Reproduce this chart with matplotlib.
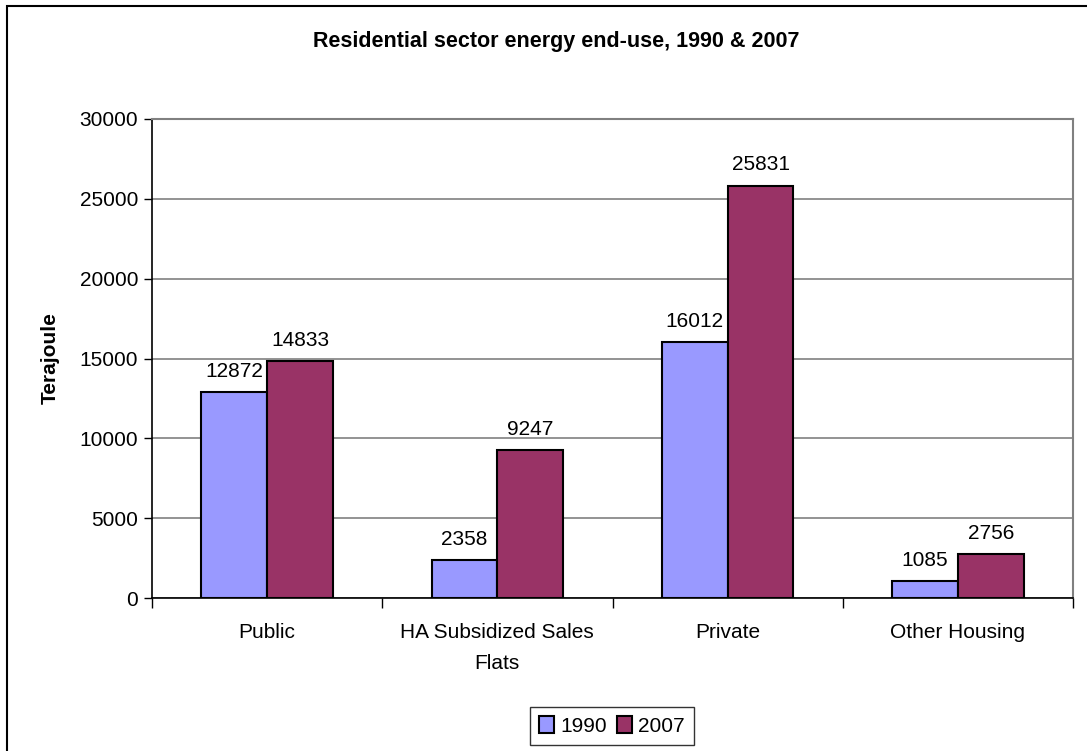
import matplotlib
matplotlib.use("Agg")
import matplotlib.pyplot as plt
import matplotlib.patches as mpatches
import numpy as np

plt.rcParams['font.family'] = ['Liberation Sans', 'DejaVu Sans']

categories = ["Public", "HA Subsidized Sales\nFlats", "Private", "Other Housing"]
series_names = ["1990", "2007"]
values_1990 = [12872, 2358, 16012, 1085]
values_2007 = [14833, 9247, 25831, 2756]
yticks = [0, 5000, 10000, 15000, 20000, 25000, 30000]

c1990 = "#9999FF"
c2007 = "#993366"

fig = plt.figure(figsize=(10.87, 7.51), dpi=100)
ax = fig.add_axes([152/1087, (751-598)/751, (1073-152)/1087, (598-119)/751])

x = np.arange(len(categories))
w = 1/3.5
b1 = ax.bar(x - w/2, values_1990, w, color=c1990, edgecolor="black", linewidth=1.5, zorder=3, label=series_names[0])
b2 = ax.bar(x + w/2, values_2007, w, color=c2007, edgecolor="black", linewidth=1.5, zorder=3, label=series_names[1])

for bars, vals in ((b1, values_1990), (b2, values_2007)):
    for rect, v in zip(bars, vals):
        ax.annotate(f"{v}", (rect.get_x() + rect.get_width()/2, v), xytext=(0, 8),
                    textcoords="offset points", ha="center", va="bottom", fontsize=15, zorder=5)

ax.set_xlim(-0.5, len(categories) - 0.5)
ax.set_ylim(0, 30000)
ax.set_yticks(yticks)
ax.set_yticklabels([str(t) for t in yticks], fontsize=15)
ax.yaxis.grid(True, color="#808080", linewidth=1.2, zorder=0)
ax.set_axisbelow(True)

ax.set_xticks(x)
ax.set_xticklabels(categories, fontsize=15, linespacing=1.8)
ax.tick_params(axis="x", which="major", length=0, pad=18)
ax.set_xticks(np.arange(-0.5, len(categories)), minor=True)
ax.tick_params(axis="x", which="minor", length=7, width=1, direction="out", color="black")
ax.tick_params(axis="y", length=6, width=1, direction="out", pad=4)

for s in ("top", "right"):
    ax.spines[s].set_color("#808080")
    ax.spines[s].set_linewidth(1.5)
for s in ("left", "bottom"):
    ax.spines[s].set_color("black")
    ax.spines[s].set_linewidth(1.2)

ax.set_ylabel("Terajoule", fontsize=15, fontweight="bold", labelpad=14)
fig.text(556/1087, 1 - 47/751, "Residential sector energy end-use, 1990 & 2007",
         ha="center", va="baseline", fontsize=15.5, fontweight="bold")

leg = fig.legend(handles=[b1, b2], loc="center", bbox_to_anchor=(612/1087, 1 - 726/751),
                 ncol=2, fontsize=15, frameon=True, fancybox=False, edgecolor="black",
                 handlelength=0.7, handleheight=0.9, handletextpad=0.3, columnspacing=0.5,
                 borderpad=0.45, borderaxespad=0)
leg.get_frame().set_linewidth(1.0)

frame = mpatches.Rectangle((7/1087, -0.05), 1.2, 1 - 6/751 + 0.05, transform=fig.transFigure,
                           fill=False, edgecolor="black", linewidth=1.5, zorder=0)
fig.patches.append(frame)

fig.savefig("out.png", dpi=100)
